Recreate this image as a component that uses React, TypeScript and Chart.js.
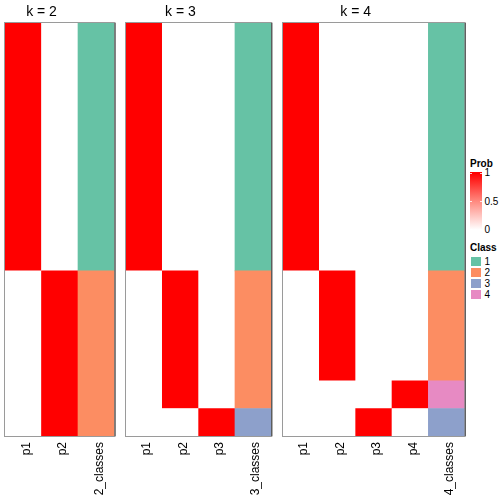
import React, { useEffect, useRef } from "react";
import { Chart, registerables } from "chart.js";

Chart.register(...registerables);

// ---- data ----
const rowCount = 15;

const k2Columns = ["p1", "p2", "2_classes"];
const k2_p1 = [1, 1, 1, 1, 1, 1, 1, 1, 1, 0, 0, 0, 0, 0, 0];
const k2_p2 = [0, 0, 0, 0, 0, 0, 0, 0, 0, 1, 1, 1, 1, 1, 1];
const k2_class = [1, 1, 1, 1, 1, 1, 1, 1, 1, 2, 2, 2, 2, 2, 2];

const k3Columns = ["p1", "p2", "p3", "3_classes"];
const k3_p1 = [1, 1, 1, 1, 1, 1, 1, 1, 1, 0, 0, 0, 0, 0, 0];
const k3_p2 = [0, 0, 0, 0, 0, 0, 0, 0, 0, 1, 1, 1, 1, 1, 0];
const k3_p3 = [0, 0, 0, 0, 0, 0, 0, 0, 0, 0, 0, 0, 0, 0, 1];
const k3_class = [1, 1, 1, 1, 1, 1, 1, 1, 1, 2, 2, 2, 2, 2, 3];

const k4Columns = ["p1", "p2", "p3", "p4", "4_classes"];
const k4_p1 = [1, 1, 1, 1, 1, 1, 1, 1, 1, 0, 0, 0, 0, 0, 0];
const k4_p2 = [0, 0, 0, 0, 0, 0, 0, 0, 0, 1, 1, 1, 1, 0, 0];
const k4_p3 = [0, 0, 0, 0, 0, 0, 0, 0, 0, 0, 0, 0, 0, 0, 1];
const k4_p4 = [0, 0, 0, 0, 0, 0, 0, 0, 0, 0, 0, 0, 0, 1, 0];
const k4_class = [1, 1, 1, 1, 1, 1, 1, 1, 1, 2, 2, 2, 2, 4, 3];

const panelTitles = ["k = 2", "k = 3", "k = 4"];
const classColors: Record<number, string> = {
  1: "#66C2A5",
  2: "#FC8D62",
  3: "#8DA0CB",
  4: "#E78AC3",
};
const probTicks = ["1", "0.5", "0"];
const classLabels = ["1", "2", "3", "4"];

const FONT = "'Liberation Sans', Arial, Helvetica, sans-serif";

function probColor(v: number): string {
  const g = Math.round(255 * (1 - v));
  return `rgb(255,${g},${g})`;
}

type Run = { start: number; end: number; value: number };
function runs(arr: number[]): Run[] {
  const out: Run[] = [];
  let s = 0;
  for (let i = 1; i <= arr.length; i++) {
    if (i === arr.length || arr[i] !== arr[s]) {
      out.push({ start: s, end: i, value: arr[s] });
      s = i;
    }
  }
  return out;
}

type PanelDef = {
  title: string;
  columns: string[];
  probs: number[][];
  classes: number[];
  canvasLeft: number;
  canvasWidth: number;
  areaLeft: number;
  areaRight: number;
};

const panels: PanelDef[] = [
  { title: panelTitles[0], columns: k2Columns, probs: [k2_p1, k2_p2], classes: k2_class, canvasLeft: 0, canvasWidth: 120, areaLeft: 5, areaRight: 114.5 },
  { title: panelTitles[1], columns: k3Columns, probs: [k3_p1, k3_p2, k3_p3], classes: k3_class, canvasLeft: 120, canvasWidth: 157, areaLeft: 126, areaRight: 271.3 },
  { title: panelTitles[2], columns: k4Columns, probs: [k4_p1, k4_p2, k4_p3, k4_p4], classes: k4_class, canvasLeft: 277, canvasWidth: 192, areaLeft: 283, areaRight: 464.7 },
];

function Panel({ def }: { def: PanelDef }) {
  const ref = useRef<HTMLCanvasElement>(null);
  useEffect(() => {
    if (!ref.current) return;
    const data: { x: string; y: [number, number] }[] = [];
    const colors: string[] = [];
    def.probs.forEach((col, j) => {
      runs(col).forEach((r) => {
        data.push({ x: def.columns[j], y: [r.start, r.end] });
        colors.push(probColor(r.value));
      });
    });
    runs(def.classes).forEach((r) => {
      data.push({ x: def.columns[def.columns.length - 1], y: [r.start, r.end] });
      colors.push(classColors[r.value]);
    });

    const decor = {
      id: "decor",
      afterDraw(chart: any) {
        const ctx = chart.ctx;
        const a = chart.chartArea;
        const xs = chart.scales.x;
        ctx.save();
        // border
        ctx.strokeStyle = "#9a9a9a";
        ctx.lineWidth = 1;
        ctx.strokeRect(a.left - 0.5, a.top - 0.5, a.right - a.left + 1, a.bottom - a.top + 1);
        ctx.strokeStyle = "#3a3a3a";
        ctx.beginPath();
        ctx.moveTo(a.right + 0.5, a.top);
        ctx.lineTo(a.right + 0.5, a.bottom);
        ctx.stroke();
        // title centered over probability columns
        const n = def.probs.length;
        const cx = (xs.getPixelForTick(0) + xs.getPixelForTick(n - 1)) / 2;
        ctx.fillStyle = "#000";
        ctx.font = `14px ${FONT}`;
        ctx.textAlign = "center";
        ctx.textBaseline = "alphabetic";
        ctx.fillText(def.title, cx, 15.5);
        ctx.restore();
      },
    };

    const chart = new Chart(ref.current, {
      type: "bar",
      data: {
        labels: def.columns,
        datasets: [
          {
            data: data as any,
            backgroundColor: colors,
            borderWidth: 0,
            barPercentage: 1,
            categoryPercentage: 1,
          },
        ],
      },
      options: {
        animation: false,
        responsive: false,
        devicePixelRatio: 1,
        layout: {
          padding: {
            left: def.areaLeft - def.canvasLeft,
            right: def.canvasLeft + def.canvasWidth - def.areaRight,
            top: 23,
            bottom: 0,
          },
        },
        plugins: { legend: { display: false }, tooltip: { enabled: false }, title: { display: false } },
        scales: {
          x: {
            type: "category",
            grid: { display: false, drawTicks: false },
            border: { display: false },
            ticks: {
              minRotation: 90,
              maxRotation: 90,
              autoSkip: false,
              padding: 6,
              labelOffset: 3,
              color: "#000",
              font: { family: FONT, size: 12 },
            },
            afterFit: (s: any) => {
              s.height = 68;
            },
          },
          y: { type: "linear", min: 0, max: rowCount, reverse: true, display: false },
        },
      },
      plugins: [decor],
    });
    return () => chart.destroy();
  }, [def]);
  return (
    <canvas
      ref={ref}
      width={def.canvasWidth}
      height={504}
      style={{ position: "absolute", left: def.canvasLeft, top: 0, width: def.canvasWidth, height: 504 }}
    />
  );
}

const txt = (extra: React.CSSProperties): React.CSSProperties => ({
  position: "absolute",
  fontFamily: FONT,
  fontSize: 10,
  lineHeight: "10px",
  color: "#000",
  whiteSpace: "nowrap",
  ...extra,
});

function Legend() {
  const barTop = 172;
  const barH = 59;
  const tickYs = [173.3, 201.5, 229.7];
  return (
    <>
      <div style={txt({ left: 470, top: 158.5, fontWeight: "bold" })}>Prob</div>
      <div
        style={{
          position: "absolute",
          left: 470,
          top: barTop,
          width: 12,
          height: barH,
          background: "linear-gradient(to bottom, #ff0000 0%, #ff0000 2%, #ff8a80 50%, #ffffff 98%, #ffffff 100%)",
        }}
      />
      {tickYs.map((y, i) => (
        <React.Fragment key={i}>
          <div style={{ position: "absolute", left: 470, top: y - 0.5, width: 2, height: 1, background: "rgba(255,255,255,0.8)" }} />
          <div style={{ position: "absolute", left: 480, top: y - 0.5, width: 2, height: 1, background: "rgba(255,255,255,0.8)" }} />
          <div style={txt({ left: 484.5, top: y - 5 })}>{probTicks[i]}</div>
        </React.Fragment>
      ))}
      <div style={txt({ left: 470, top: 242.5, fontWeight: "bold" })}>Class</div>
      {classLabels.map((lab, i) => (
        <React.Fragment key={lab}>
          <div
            style={{
              position: "absolute",
              left: 470,
              top: 256 + i * 11,
              width: 12,
              height: 11,
              boxSizing: "border-box",
              border: "1px solid #ffffff",
              background: classColors[Number(lab)],
            }}
          />
          <div style={txt({ left: 484.5, top: 256.5 + i * 11 })}>{lab}</div>
        </React.Fragment>
      ))}
    </>
  );
}

export default function App() {
  return (
    <div style={{ position: "absolute", left: 0, top: 0, width: 504, height: 504, background: "#fff", overflow: "hidden" }}>
      {panels.map((p) => (
        <Panel key={p.title} def={p} />
      ))}
      <Legend />
    </div>
  );
}
